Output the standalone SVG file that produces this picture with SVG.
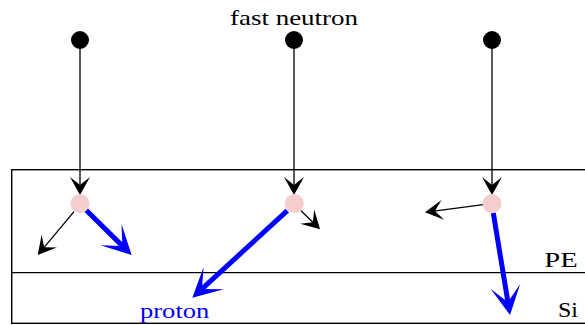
<svg xmlns="http://www.w3.org/2000/svg" width="585" height="325" viewBox="0 0 585 325">
<style>
.frame{fill:none;stroke:#000;stroke-width:1.4}
.thin{fill:none;stroke:#000;stroke-width:1.3}
.blue{fill:none;stroke:#0000ff;stroke-width:5}
.lbl{font-family:"Liberation Serif","DejaVu Serif",serif;font-size:21px;fill:#000}
.neutron{fill:#000}
.nucleus{fill:#f6cdcd}
</style>
<defs>
<marker id="ah" markerUnits="userSpaceOnUse" viewBox="-20 -11 22 22" refX="-9" refY="0" markerWidth="22" markerHeight="22" orient="auto">
<path d="M0,0 L-18,-10 L-10,0 L-18,10 Z" fill="#000"/>
</marker>
<marker id="ahb" markerUnits="userSpaceOnUse" viewBox="-32 -17 34 34" refX="-12" refY="0" markerWidth="34" markerHeight="34" orient="auto">
<path d="M0,0 L-29,-15 L-13,0 L-29,15 Z" fill="#0000ff"/>
</marker>
</defs>
<g id="layers">
<rect class="frame" x="11.7" y="169.7" width="600" height="153.6"/>
<line class="frame" x1="11.7" y1="272.6" x2="600" y2="272.6"/>
</g>
<g id="connectors">
<line class="thin" x1="80" y1="48" x2="80" y2="186" marker-end="url(#ah)"/>
<line class="thin" x1="294" y1="48" x2="294" y2="186" marker-end="url(#ah)"/>
<line class="thin" x1="492" y1="48" x2="492" y2="186" marker-end="url(#ah)"/>
<line class="thin" x1="74" y1="211.7" x2="43.5" y2="248.1" marker-end="url(#ah)"/>
<line class="blue" x1="86" y1="210" x2="123.1" y2="246.6" marker-end="url(#ahb)"/>
<line class="thin" x1="301" y1="210.7" x2="313.6" y2="223" marker-end="url(#ah)"/>
<line class="blue" x1="287.3" y1="210.7" x2="201.2" y2="289.6" marker-end="url(#ahb)"/>
<line class="thin" x1="483.3" y1="204.7" x2="433.9" y2="211.1" marker-end="url(#ah)"/>
<line class="blue" x1="493.3" y1="213" x2="508.1" y2="303.2" marker-end="url(#ahb)"/>
</g>
<g id="neutron1"><circle class="neutron" cx="80" cy="40" r="9"/></g>
<g id="neutron2"><circle class="neutron" cx="294" cy="40" r="9"/></g>
<g id="neutron3"><circle class="neutron" cx="492" cy="40" r="9"/></g>
<g id="nucleus1"><circle class="nucleus" cx="80" cy="203.5" r="9.5"/></g>
<g id="nucleus2"><circle class="nucleus" cx="294.3" cy="203.5" r="9.5"/></g>
<g id="nucleus3"><circle class="nucleus" cx="492" cy="203.5" r="9.5"/></g>
<g id="labels">
<text class="lbl" x="230" y="25" textLength="128" lengthAdjust="spacingAndGlyphs">fast neutron</text>
<text class="lbl" x="544.3" y="267" textLength="33.4" lengthAdjust="spacingAndGlyphs">PE</text>
<text class="lbl" x="558" y="317" textLength="20" lengthAdjust="spacingAndGlyphs">Si</text>
<text class="lbl" x="140" y="318" textLength="69.3" lengthAdjust="spacingAndGlyphs" style="fill:#0000ff">proton</text>
</g>
</svg>
